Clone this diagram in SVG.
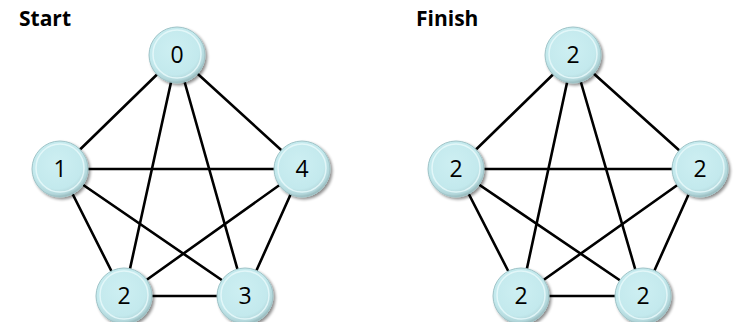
<svg xmlns="http://www.w3.org/2000/svg" width="735" height="322" viewBox="0 0 735 322">
<style>
.title{font-family:"Open Sans","Liberation Sans",sans-serif;font-weight:bold;font-size:21px;fill:#000}
.lbl{font-family:"Open Sans","Liberation Sans",sans-serif;font-size:23px;fill:#000;text-anchor:middle}
.edge{stroke:#000;stroke-width:2.6;stroke-linecap:round;fill:none}
.ball{fill:url(#g);stroke:#9fc4c8;stroke-width:1;filter:url(#sh)}
.rim{fill:none;stroke:#eafafb;stroke-width:1.5;opacity:0.8}
</style>
<defs>
<radialGradient id="g" cx="0.45" cy="0.4" r="0.6">
<stop offset="0" stop-color="#cdeff2"/>
<stop offset="0.75" stop-color="#c3e9ed"/>
<stop offset="0.92" stop-color="#b2d6da"/>
<stop offset="1" stop-color="#98babd"/>
</radialGradient>
<filter id="sh" x="-30%" y="-30%" width="160%" height="160%">
<feGaussianBlur in="SourceAlpha" stdDeviation="1.5"/>
<feOffset dx="1.5" dy="2" result="b"/>
<feComponentTransfer><feFuncA type="linear" slope="0.45"/></feComponentTransfer>
<feMerge><feMergeNode/><feMergeNode in="SourceGraphic"/></feMerge>
</filter>
</defs>
<rect width="735" height="322" fill="#fff"/>
<text class="title" x="19" y="26">Start</text>
<text class="title" x="416" y="26">Finish</text>
<g id="connectors">
<line class="edge" x1="177" y1="55" x2="60" y2="169"/>
<line class="edge" x1="177" y1="55" x2="302" y2="169"/>
<line class="edge" x1="177" y1="55" x2="124" y2="296"/>
<line class="edge" x1="177" y1="55" x2="245" y2="296"/>
<line class="edge" x1="60" y1="169" x2="302" y2="169"/>
<line class="edge" x1="60" y1="169" x2="124" y2="296"/>
<line class="edge" x1="60" y1="169" x2="245" y2="296"/>
<line class="edge" x1="302" y1="169" x2="124" y2="296"/>
<line class="edge" x1="302" y1="169" x2="245" y2="296"/>
<line class="edge" x1="124" y1="296" x2="245" y2="296"/>
<line class="edge" x1="573" y1="55" x2="456" y2="169"/>
<line class="edge" x1="573" y1="55" x2="700" y2="169"/>
<line class="edge" x1="573" y1="55" x2="521" y2="296"/>
<line class="edge" x1="573" y1="55" x2="643" y2="296"/>
<line class="edge" x1="456" y1="169" x2="700" y2="169"/>
<line class="edge" x1="456" y1="169" x2="521" y2="296"/>
<line class="edge" x1="456" y1="169" x2="643" y2="296"/>
<line class="edge" x1="700" y1="169" x2="521" y2="296"/>
<line class="edge" x1="700" y1="169" x2="643" y2="296"/>
<line class="edge" x1="521" y1="296" x2="643" y2="296"/>
</g>
<g id="s0"><circle class="ball" cx="177" cy="55" r="28"/><circle class="rim" cx="177" cy="54" r="24"/><text class="lbl" x="177" y="63">0</text></g>
<g id="s1"><circle class="ball" cx="60" cy="169" r="28"/><circle class="rim" cx="60" cy="168" r="24"/><text class="lbl" x="60" y="177">1</text></g>
<g id="s4"><circle class="ball" cx="302" cy="169" r="28"/><circle class="rim" cx="302" cy="168" r="24"/><text class="lbl" x="302" y="177">4</text></g>
<g id="s2"><circle class="ball" cx="124" cy="296" r="28"/><circle class="rim" cx="124" cy="295" r="24"/><text class="lbl" x="124" y="304">2</text></g>
<g id="s3"><circle class="ball" cx="245" cy="296" r="28"/><circle class="rim" cx="245" cy="295" r="24"/><text class="lbl" x="245" y="304">3</text></g>
<g id="f0"><circle class="ball" cx="573" cy="55" r="28"/><circle class="rim" cx="573" cy="54" r="24"/><text class="lbl" x="573" y="63">2</text></g>
<g id="f1"><circle class="ball" cx="456" cy="169" r="28"/><circle class="rim" cx="456" cy="168" r="24"/><text class="lbl" x="456" y="177">2</text></g>
<g id="f4"><circle class="ball" cx="700" cy="169" r="28"/><circle class="rim" cx="700" cy="168" r="24"/><text class="lbl" x="700" y="177">2</text></g>
<g id="f2"><circle class="ball" cx="521" cy="296" r="28"/><circle class="rim" cx="521" cy="295" r="24"/><text class="lbl" x="521" y="304">2</text></g>
<g id="f3"><circle class="ball" cx="643" cy="296" r="28"/><circle class="rim" cx="643" cy="295" r="24"/><text class="lbl" x="643" y="304">2</text></g>
</svg>
